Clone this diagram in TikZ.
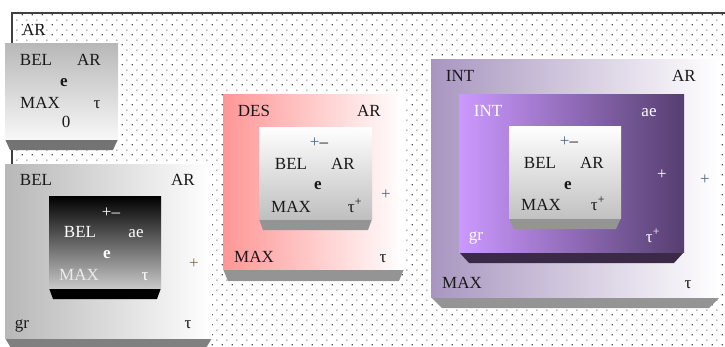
\documentclass[tikz,border=0pt]{standalone}
\usepackage{fontspec}
\setmainfont{Liberation Serif}
\usetikzlibrary{patterns}
\pgfdeclarepatternformonly{sparsedots}{\pgfpointorigin}{\pgfpoint{10pt}{10pt}}{\pgfpoint{10pt}{10pt}}{%
  \pgfpathrectangle{\pgfpoint{1.9pt}{1.9pt}}{\pgfpoint{1.2pt}{1.2pt}}%
  \pgfpathrectangle{\pgfpoint{6.9pt}{6.9pt}}{\pgfpoint{1.2pt}{1.2pt}}%
  \pgfusepath{fill}}
\definecolor{ink}{RGB}{25,25,25}
\definecolor{plusblue}{RGB}{80,105,130}
\definecolor{plusbrown}{RGB}{140,110,60}
\definecolor{salmon}{RGB}{255,150,150}
\definecolor{lav}{RGB}{168,150,192}
\definecolor{lilac}{RGB}{204,153,255}
\definecolor{midpurp}{RGB}{160,120,205}
\definecolor{darkpurp}{RGB}{85,62,112}
\definecolor{trappurp}{RGB}{58,42,72}
% #1 x1, #2 y1, #3 x2, #4 y2 (face), #5 y bottom of slab, #6 inset, #7 slab colour, #8 face shading
\newcommand\slab[8]{%
  \fill[#7] (#1,#4) -- (#3,#4) -- (#3-#6,#5) -- (#1+#6,#5) -- cycle;
  \path[#8] (#1,#2) rectangle (#3,#4);}
\tikzset{
  txt/.style={anchor=base, inner sep=0pt, font=\fontsize{17}{20}\selectfont, text=ink},
  wtxt/.style={txt, text=white},
  bold/.style={font=\fontsize{17}{20}\selectfont\bfseries},
}
\begin{document}
\begin{tikzpicture}[x=1pt,y=-1pt]
\useasboundingbox (0,0) rectangle (725,346);
% dotted frame
\fill[pattern=sparsedots, pattern color=black!70] (12,13) rectangle (725,346);
\draw[line width=1.3pt, black!75] (12,346) -- (12,13) -- (725,13);
\node[txt] (arTop) at (34,35) {AR};

% ---------- Box 1 ----------
\slab{5}{43}{118}{139}{150}{5}{black!55}{top color=black!28, bottom color=black!3}
\node[txt] (b1bel) at (36,65) {BEL};
\node[txt] (b1ar) at (89,65) {AR};
\node[txt, bold] (b1e) at (64,86) {e};
\node[txt] (b1max) at (40,108) {MAX};
\node[txt] (b1tau) at (97,108) {τ};
\node[txt] (b1zero) at (66,127) {0};

% ---------- Box 2 ----------
\slab{5}{164}{212}{338}{348}{6}{black!50}{left color=black!28, right color=white}
\node[txt] (b2bel) at (36,185) {BEL};
\node[txt] (b2ar) at (183,185) {AR};
\node[txt] (b2gr) at (22,328) {gr};
\node[txt] (b2tau) at (188,328) {τ};
\node[txt, text=plusbrown] (b2plus) at (194,268) {+};
\slab{49}{196}{161}{288}{299}{4}{black}{top color=black, bottom color=black!22}
\node[wtxt] (b2pm) at (111,217) {+–};
\node[wtxt] (b2ibel) at (80,237) {BEL};
\node[wtxt] (b2iae) at (136,237) {ae};
\node[wtxt, bold] (b2ie) at (107,258) {e};
\node[wtxt, text=black!8] (b2imax) at (79,280) {MAX};
\node[wtxt] (b2itau) at (145,280) {τ};

% ---------- Box 3 ----------
\slab{223}{94}{404}{269}{281}{5}{black!42}{left color=salmon, right color=white}
\node[txt] (b3des) at (254,116) {DES};
\node[txt] (b3ar) at (369,116) {AR};
\node[txt] (b3max) at (254,262) {MAX};
\node[txt] (b3tau) at (383,262) {τ};
\node[txt, text=plusblue] (b3plus) at (386,199) {+};
\slab{259}{127}{372}{219}{230}{4}{black!42}{top color=white, bottom color=black!25}
\node[txt] (b3pm) at (319,147) {{\color{plusblue}+}–};
\node[txt] (b3bel) at (291,169) {BEL};
\node[txt] (b3iar) at (343,169) {AR};
\node[txt, bold] (b3e) at (318,189) {e};
\node[txt] (b3imax) at (291,212) {MAX};
\node[txt] (b3itau) at (355,212) {τ\textsuperscript{+}};

% ---------- Box 4 ----------
\slab{431}{59}{720}{297}{308}{11}{black!42}{left color=lav, right color=white}
\node[txt] (b4int) at (460,81) {INT};
\node[txt] (b4ar) at (684,81) {AR};
\node[txt] (b4max) at (462,288) {MAX};
\node[txt] (b4tau) at (688,288) {τ};
\node[txt, text=plusblue] (b4plus) at (705,184) {+};
\slab{459}{94}{684}{252}{263}{10}{trappurp}{left color=lilac, middle color=midpurp, right color=darkpurp}
\node[wtxt] (b4mint) at (488,116) {INT};
\node[wtxt] (b4mae) at (649,116) {ae};
\node[wtxt] (b4mgr) at (476,240) {gr};
\node[wtxt] (b4mtau) at (653,242) {τ\textsuperscript{+}};
\node[wtxt] (b4mplus) at (662,179) {+};
\slab{509}{126}{621}{218}{229}{5}{black!42}{top color=white, bottom color=black!24}
\node[txt] (b4pm) at (569,146) {{\color{plusblue}+}–};
\node[txt] (b4bel) at (540,168) {BEL};
\node[txt] (b4iar) at (592,168) {AR};
\node[txt, bold] (b4e) at (568,189) {e};
\node[txt] (b4imax) at (541,210) {MAX};
\node[txt] (b4itau) at (598,210) {τ\textsuperscript{+}};
\end{tikzpicture}
\end{document}
